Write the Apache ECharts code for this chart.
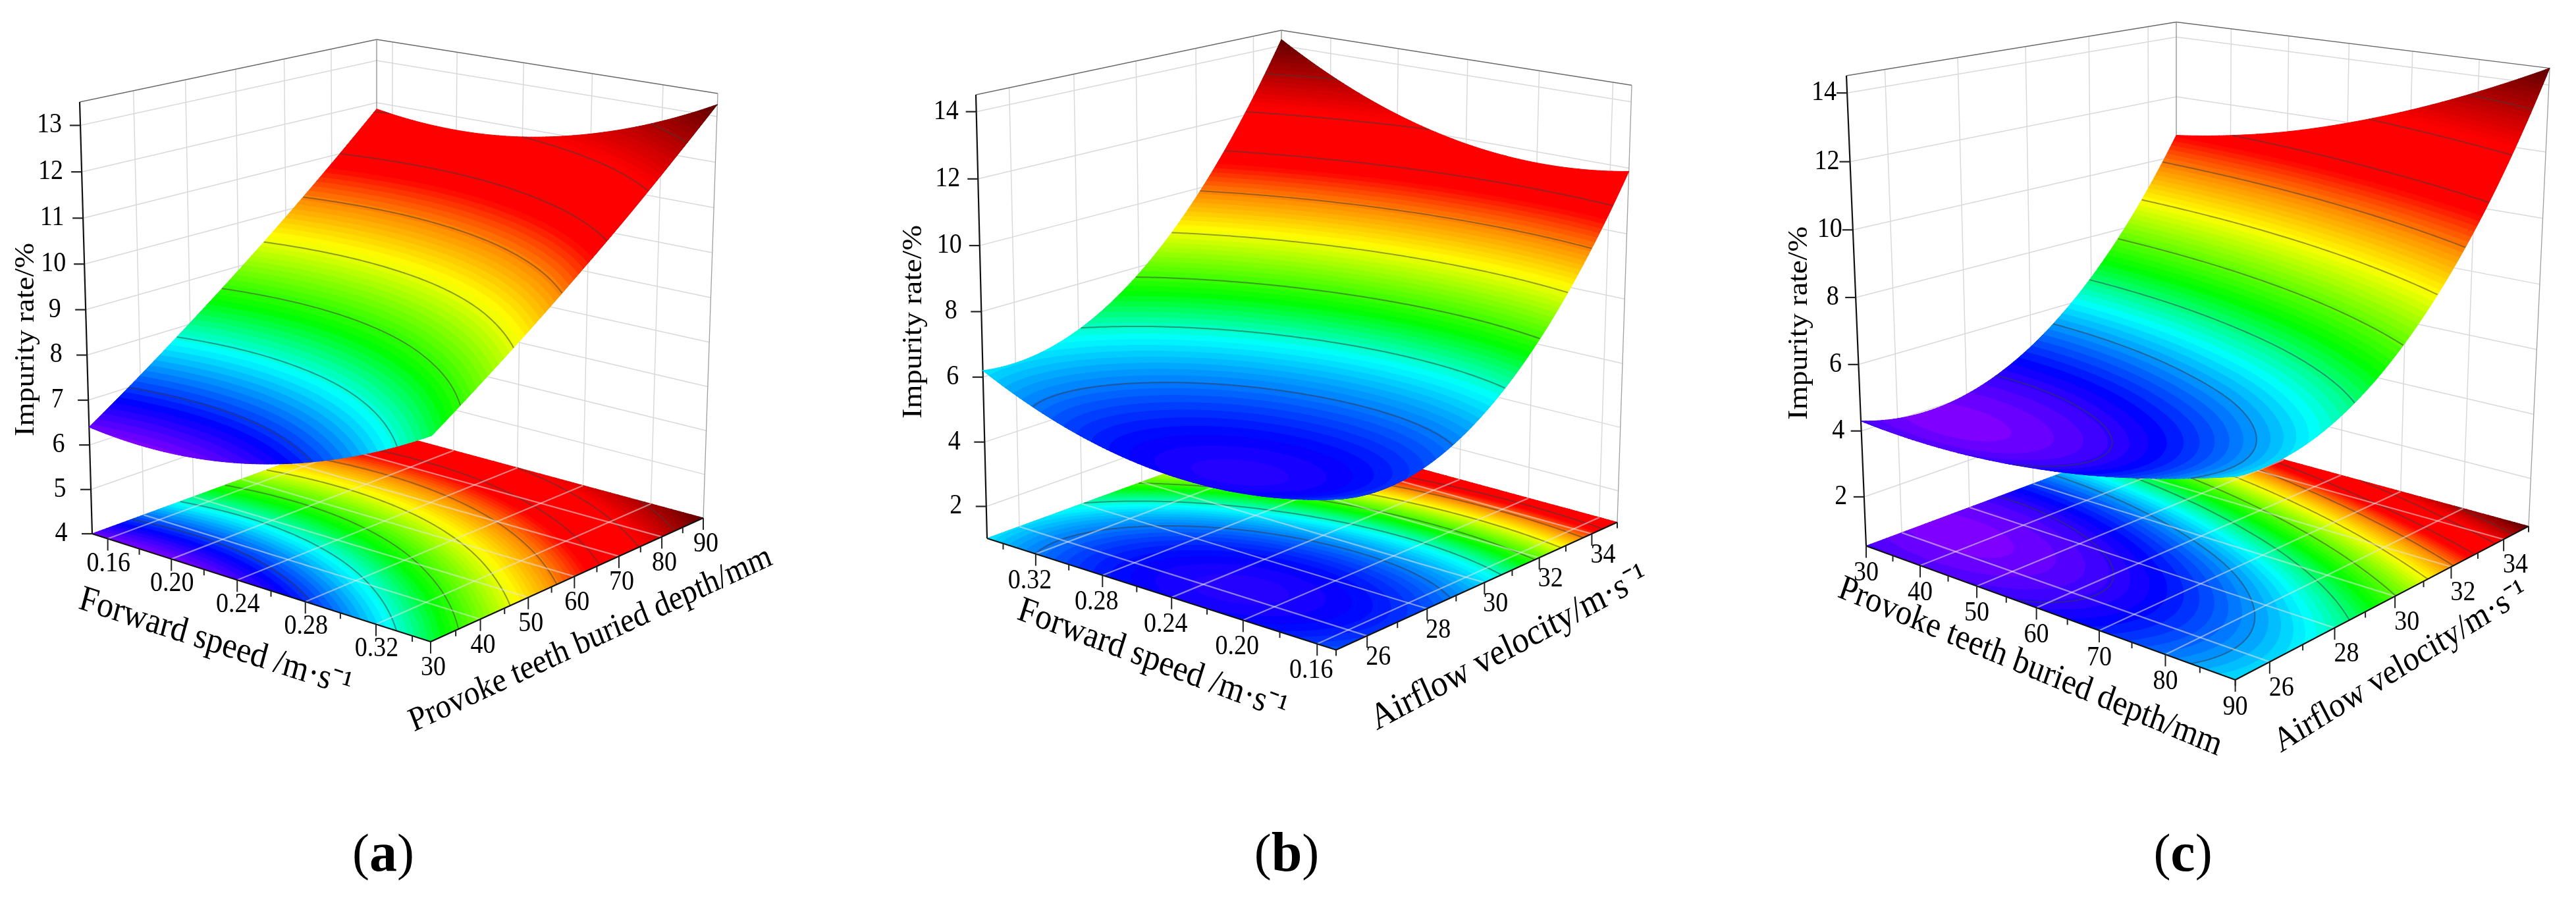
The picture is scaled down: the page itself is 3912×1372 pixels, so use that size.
<!DOCTYPE html>
<html><head><meta charset="utf-8"><title>Impurity rate response surfaces</title>
<style>html,body{margin:0;padding:0;background:#fff}#c{width:3912px;height:1372px}</style>
<script src="https://cdn.jsdelivr.net/npm/echarts@6/dist/echarts.min.js"></script></head>
<body><div id="c"></div><script>
// ---- values ----
const speedNodesA=[0.15,0.19,0.23,0.27,0.31,0.35];
const depthNodesA=[30,40,50,60,70,80,90];
// rows: depth, columns: forward speed
const impurityA=[
[6.40,6.32,6.46,6.82,7.40,8.20],
[7.19,7.10,7.22,7.57,8.14,8.93],
[8.03,7.92,8.04,8.37,8.93,9.70],
[8.91,8.79,8.89,9.21,9.75,10.52],
[9.84,9.71,9.80,10.10,10.63,11.38],
[10.82,10.68,10.75,11.05,11.56,12.30],
[11.85,11.69,11.75,12.04,12.54,13.26]];
const speedNodesB=[0.35,0.31,0.27,0.23,0.19,0.15];
const airNodesB=[25,27,29,31,33,35];
// rows: airflow, columns: forward speed
const impurityB=[
[6.20,5.31,4.77,4.58,4.74,5.25],
[6.25,5.31,4.72,4.47,4.58,5.03],
[7.08,6.08,5.43,5.14,5.19,5.59],
[8.68,7.63,6.93,6.57,6.57,6.92],
[11.05,9.95,9.19,8.79,8.73,9.02],
[14.20,13.04,12.23,11.77,11.66,11.90]];
const depthNodesC=[30,40,50,60,70,80,90];
const airNodesC=[25,27,29,31,33,35];
// rows: airflow, columns: depth
const impurityC=[
[4.30,4.22,4.28,4.48,4.81,5.29,5.90],
[3.96,3.96,4.09,4.36,4.77,5.32,6.00],
[4.44,4.50,4.71,5.06,5.53,6.16,6.92],
[5.72,5.86,6.14,6.56,7.11,7.81,8.64],
[7.80,8.02,8.37,8.86,9.49,10.26,11.16],
[10.70,10.99,11.41,11.98,12.68,13.52,14.50]];
const contourLevelsA=[7.0,7.8,8.6,9.4,10.2,11.0,11.8,12.6];
const contourLevelsB=[5.5,6.6,7.7,8.8,9.9,11.0,12.1,13.2];
const contourLevelsC=[4.4,5.5,6.6,7.7,8.8,9.9,11.0,12.2,13.4];
const zTicksA=[4,5,6,7,8,9,10,11,12,13];
const zTicksBC=[2,4,6,8,10,12,14];
const speedTicks=['0.16','0.20','0.24','0.28','0.32'];
const speedMinor=[0.18,0.22,0.26,0.30,0.34];
const depthTicks=['30','40','50','60','70','80','90'];
const depthMinor=[35,45,55,65,75,85];
const airTicks=['26','28','30','32','34'];
const airMinor=[25,27,29,31,33,35];
const zTitle='Impurity rate/%';
const speedTitle='Forward speed /m·s⁻¹';
const depthTitle='Provoke teeth buried depth/mm';
const airTitle='Airflow velocity/m·s⁻¹';
// ---- colour ramp ----
const rampStopsBase=[0,0.07,0.2,0.3,0.46,0.55,0.64,0.8,1];
const rampColors=[[127,0,255],[0,0,255],[0,255,255],[0,255,0],[255,255,0],[255,144,0],[255,0,0],[255,0,0],[96,0,0]];
// ---- scene layout ----
const SERIF='"Liberation Serif"',STRETCH=1.1,NF=90;
const panels=[
{name:'a',z:impurityA,uR:[0.15,0.35],vR:[30,90],zR:[4,13.5],levels:contourLevelsA,zTicks:zTicksA,blue:0.07,low:[127,0,255],
 floor:[[140,811],[654,975],[1068,787],[572,653]],top:[[121,155],[658,255],[1090,142],[572,60]],
 uT:speedTicks,uM:speedMinor,vT:depthTicks,vM:depthMinor,
 zOff:30,uOff:[1,38],vOff:[4,40],
 zT:{t:zTitle,x:40,y:516},uTitle:{t:speedTitle,x:327,y:977,a:-18,s:50},vTitle:{t:depthTitle,x:897,y:972,a:25,s:47},cap:582},
{name:'b',z:impurityB,uR:[0.35,0.15],vR:[25,35],zR:[1,14.5],levels:contourLevelsB,zTicks:zTicksBC,blue:0.03,low:[36,0,255],
 floor:[[1499,818],[2029,987.5],[2456,793.6],[1946,655]],top:[[1482,144],[2033,245],[2478,129.5],[1946,46]],
 uT:speedTicks,uM:speedMinor,vT:airTicks,vM:airMinor,
 zOff:29,uOff:[-9,41],vOff:[17,33],
 zT:{t:zTitle,x:1388,y:489},uTitle:{t:speedTitle,x:1750,y:1003,a:-20.7,s:50},vTitle:{t:airTitle,x:2292,y:985,a:28.3,s:51},cap:1954},
{name:'c',z:impurityC,uR:[30,90],vR:[25,35],zR:[0.5,14.5],levels:contourLevelsC,zTicks:zTicksBC,blue:0.07,low:[127,0,255],
 floor:[[2834,829.5],[3394.6,1033],[3840,799.6],[3305,654]],top:[[2804,115],[3400,217],[3872,103.6],[3305,33.5]],
 uT:depthTicks,uM:depthMinor,vT:airTicks,vM:airMinor,
 zOff:18,uOff:[0,42],vOff:[18,40],
 zT:{t:zTitle,x:2733,y:491},uTitle:{t:depthTitle,x:3083,y:1014,a:-22.7,s:49},vTitle:{t:airTitle,x:3646,y:1014,a:32,s:48},cap:3315}];

echarts.graphic.registerShape('frags',echarts.graphic.extendShape({
 type:'frags',shape:{polys:[],closed:true},
 buildPath(ctx,s){s.polys.forEach(q=>{ctx.moveTo(q[0],q[1]);for(let i=2;i<q.length;i+=2)ctx.lineTo(q[i],q[i+1]);if(s.closed)ctx.closePath();});}
}));
function ramp(t,blue,low){const st=rampStopsBase.slice();st[1]=blue;let i=1;while(i<st.length-1&&t>st[i])i++;
 const a=st[i-1],b=st[i],f=Math.max(0,Math.min(1,(t-a)/(b-a))),p=i===1?low:rampColors[i-1],q=rampColors[i];
 return 'rgb('+[0,1,2].map(k=>Math.round(p[k]+(q[k]-p[k])*f)).join(',')+')';}
function homography(q){const [x0,y0]=q[0],[x1,y1]=q[1],[x2,y2]=q[2],[x3,y3]=q[3];
 const sx=x0-x1+x2-x3,sy=y0-y1+y2-y3,dx1=x1-x2,dx2=x3-x2,dy1=y1-y2,dy2=y3-y2,den=dx1*dy2-dx2*dy1;
 const g=(sx*dy2-dx2*sy)/den,h=(dx1*sy-sx*dy1)/den;
 const a=x1-x0+g*x1,b=x3-x0+h*x3,d=y1-y0+g*y1,e=y3-y0+h*y3;
 return (u,v)=>{const w=g*u+h*v+1;return [(a*u+b*v+x0)/w,(d*u+e*v+y0)/w];};}
function cubic(arr,s){const n=arr.length-1,x=s*n,i=Math.min(n-1,Math.floor(x)),t=x-i;
 const at=k=>k<0?3*arr[0]-3*arr[1]+arr[2]:k>n?3*arr[n]-3*arr[n-1]+arr[n-2]:arr[k];
 const p0=at(i-1),p1=at(i),p2=at(i+1),p3=at(i+2);
 return .5*(2*p1+(p2-p0)*t+(2*p0-5*p1+4*p2-p3)*t*t+(3*p1-p0-3*p2+p3)*t*t*t);}
panels.forEach(p=>{
 p.fl=homography(p.floor);p.tp=homography(p.top);
 const Z=[];let mn=1e9,mx=-1e9;
 for(let i=0;i<=NF;i++){Z.push([]);for(let j=0;j<=NF;j++){
  const col=p.z.map(r=>cubic(r,i/NF));const z=cubic(col,j/NF);Z[i].push(z);mn=Math.min(mn,z);mx=Math.max(mx,z);}}
 p.Z=Z;p.mn=mn;p.mx=mx;
});
function project(p,u,v,z){const F=p.fl(u,v),T=p.tp(u,v),w=(z-p.zR[0])/(p.zR[1]-p.zR[0]),k=1.03,W=w/(k-(k-1)*w);
 return [F[0]+(T[0]-F[0])*W,F[1]+(T[1]-F[1])*W];}
function uOf(p,val){return (val-p.uR[0])/(p.uR[1]-p.uR[0]);}
function vOf(p,val){return (val-p.vR[0])/(p.vR[1]-p.vR[0]);}
function clip(poly,lim,keepAbove){const out=[];
 for(let i=0;i<poly.length;i++){const a=poly[i],b=poly[(i+1)%poly.length];
  const ia=keepAbove?a[2]>=lim:a[2]<=lim,ib=keepAbove?b[2]>=lim:b[2]<=lim;
  if(ia)out.push(a);
  if(ia!==ib){const f=(lim-a[2])/(b[2]-a[2]);out.push([a[0]+(b[0]-a[0])*f,a[1]+(b[1]-a[1])*f,lim]);}}
 return out;}

function render(params,api){
 const p=panels[api.value(0)],ch=[];
 const C=xy=>api.coord(xy);
 const P=(u,v,z)=>C(project(p,u,v,z));
 const zB=p.zR[0],zT=p.zR[1];
 const line=(a,b,c,w)=>ch.push({type:'line',shape:{x1:a[0],y1:a[1],x2:b[0],y2:b[1]},style:{stroke:c,lineWidth:w}});
 const text=(t,xy,size,deg,extra)=>{const th=deg*Math.PI/180;
  const r=Math.atan2(Math.sin(th)/STRETCH,Math.cos(th));
  ch.push({type:'group',x:xy[0],y:xy[1],scaleY:STRETCH,children:[{type:'text',rotation:r,
   style:Object.assign({text:t,fontFamily:SERIF,fontSize:size,fill:'#000',align:'center',verticalAlign:'middle'},extra||{})}]});};
 // walls
 const WG='#d9d9d9',FR='#6a6a6a';
 p.zTicks.forEach(z=>{line(P(0,0,z),P(0,1,z),WG,1.5);line(P(0,1,z),P(1,1,z),WG,1.5);});
 p.vT.forEach(s=>{const v=vOf(p,+s);if(v>0.001&&v<.999)line(P(0,v,zB),P(0,v,zT),WG,1.5);});
 p.uT.forEach(s=>{const u=uOf(p,+s);if(u>0.001&&u<.999)line(P(u,1,zB),P(u,1,zT),WG,1.5);});
 line(P(0,0,zT),P(0,1,zT),FR,1.3);line(P(0,1,zT),P(1,1,zT),FR,1.3);
 line(P(0,1,zB),P(0,1,zT),'#8c8c8c',1.3);line(P(1,1,zB),P(1,1,zT),'#a0a0a0',1.3);
 line(P(0,0,zB),P(0,1,zB),WG,1.5);line(P(0,1,zB),P(1,1,zB),WG,1.5);
 // filled bands: each fine cell is cut at the colour band limits
 const L=84,R=p.mx-p.mn;
 const mesh=flat=>{
  const bands=[];for(let k=0;k<=L;k++)bands.push([]);
  const put=(k,poly)=>{if(poly.length<3)return;const q=[];
   poly.forEach(a=>{const xy=P(a[0],a[1],flat?zB:a[2]);q.push(xy[0],xy[1]);});bands[k].push(q);};
  const tri=T=>{const zs=T.map(a=>a[2]),lo=Math.min(...zs),hi=Math.max(...zs);
   const b=z=>Math.max(0,Math.min(L,Math.floor((z-p.mn)/R*L+.5)));
   const k0=b(lo),k1=b(hi);
   if(k0===k1){put(k0,T);return;}
   for(let k=k0;k<=k1;k++){let q=T;
    if(k>k0)q=clip(q,p.mn+(k-.5)/L*R,true);
    if(k<k1&&q.length)q=clip(q,p.mn+(k+.5)/L*R,false);
    put(k,q);}};
  for(let i=0;i<NF;i++)for(let j=0;j<NF;j++){
   const A=[i/NF,j/NF,p.Z[i][j]],B=[(i+1)/NF,j/NF,p.Z[i+1][j]],D=[(i+1)/NF,(j+1)/NF,p.Z[i+1][j+1]],E=[i/NF,(j+1)/NF,p.Z[i][j+1]];
   tri([A,B,D]);tri([A,D,E]);}
  bands.forEach((polys,k)=>{if(!polys.length)return;const c=ramp(k/L,p.blue,p.low);
   ch.push({type:'frags',shape:{polys,closed:true},style:{fill:c,stroke:c,lineWidth:1}});});};
 const contour=flat=>{const segs=[];
  p.levels.forEach(l=>{for(let i=0;i<NF;i++)for(let j=0;j<NF;j++){
   const c=[[i,j],[i+1,j],[i+1,j+1],[i,j+1]],pts=[];
   for(let k=0;k<4;k++){const a=c[k],b=c[(k+1)%4],za=p.Z[a[0]][a[1]],zb=p.Z[b[0]][b[1]];
    if((za<l)!==(zb<l)){const f=(l-za)/(zb-za);
     pts.push(P((a[0]+(b[0]-a[0])*f)/NF,(a[1]+(b[1]-a[1])*f)/NF,flat?zB:l));}}
   if(pts.length>=2)segs.push([pts[0][0],pts[0][1],pts[1][0],pts[1][1]]);}});
  ch.push({type:'frags',shape:{polys:segs,closed:false},style:{fill:null,stroke:'rgba(60,60,60,0.5)',lineWidth:2}});};
 mesh(true);contour(true);
 // floor grid
 const FG='rgba(228,228,228,0.55)';
 p.uT.forEach(s=>{const u=uOf(p,+s);if(u>0.001&&u<.999)line(P(u,0,zB),P(u,1,zB),FG,2.2);});
 p.vT.forEach(s=>{const v=vOf(p,+s);if(v>0.001&&v<.999)line(P(0,v,zB),P(1,v,zB),FG,2.2);});
 // axis lines, ticks, labels
 line(P(0,0,zB),P(0,0,zT),'#111',2.2);line(P(0,0,zB),P(1,0,zB),'#111',2.2);line(P(1,0,zB),P(1,1,zB),'#111',2.2);
 const dn=(xy,len)=>line(xy,[xy[0],xy[1]+len],'#222',2);
 p.zTicks.forEach(z=>{const a=P(0,0,z);line(a,[a[0]-16,a[1]],'#222',2.2);
  text(String(z),[a[0]-p.zOff-17,a[1]],38,0);});
 p.uT.forEach(s=>{const a=P(uOf(p,+s),0,zB);dn(a,18);text(s,[a[0]+p.uOff[0],a[1]+p.uOff[1]],38,0);});
 p.uM.forEach(s=>{dn(P(uOf(p,s),0,zB),9);});
 p.vT.forEach(s=>{const a=P(1,vOf(p,+s),zB);dn(a,18);text(s,[a[0]+p.vOff[0],a[1]+p.vOff[1]],38,0);});
 p.vM.forEach(s=>{dn(P(1,vOf(p,s),zB),9);});
 // axis titles
 text(p.zT.t,C([p.zT.x,p.zT.y]),42,90);
 text(p.uTitle.t,C([p.uTitle.x,p.uTitle.y]),p.uTitle.s,p.uTitle.a);
 text(p.vTitle.t,C([p.vTitle.x,p.vTitle.y]),p.vTitle.s,p.vTitle.a);
 // surface
 mesh(false);contour(false);
 // caption
 const cp=C([p.cap,1301]);
 ch.push({type:'text',x:cp[0],y:cp[1],style:{text:'{p|(}{l|'+p.name+'}{p|)}',align:'center',verticalAlign:'middle',
  rich:{p:{fontFamily:SERIF,fontSize:78,fill:'#000'},l:{fontFamily:SERIF,fontSize:84,fontWeight:'bold',fill:'#000'}}}});
 return {type:'group',children:ch};
}
const chart=echarts.init(document.getElementById('c'),null,{renderer:'canvas'});
chart.setOption({animation:false,backgroundColor:'#fff',
 grid:{left:0,right:0,top:0,bottom:0},
 xAxis:{type:'value',min:0,max:3912,show:false},
 yAxis:{type:'value',min:0,max:1372,inverse:true,show:false},
 tooltip:{show:false},
 series:panels.map((p,i)=>({type:'custom',name:'Panel ('+p.name+')',silent:true,clip:false,progressive:0,
  coordinateSystem:'cartesian2d',encode:{x:0,y:1},data:[[i,0]],renderItem:render}))});
</script></body></html>
